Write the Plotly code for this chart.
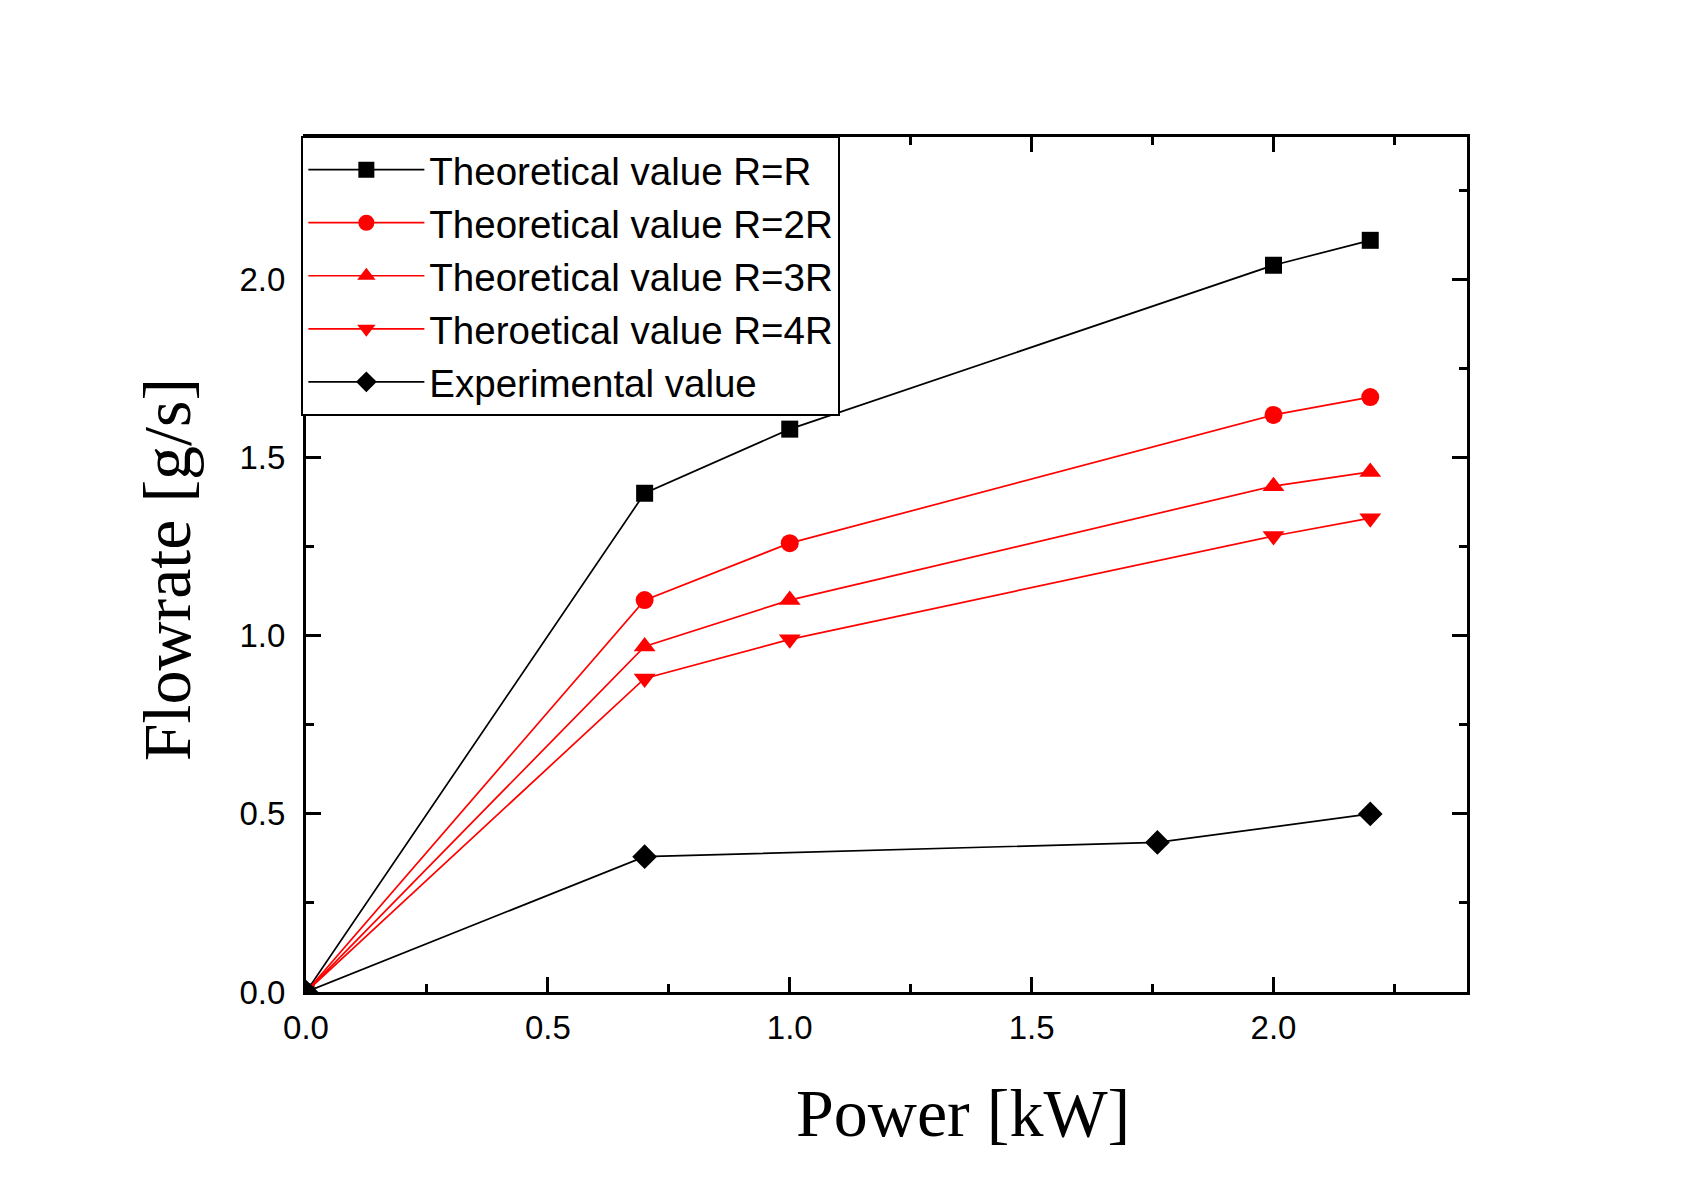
import plotly.graph_objects as go

power_theory = [0.0, 0.7, 1.0, 2.0, 2.2]
flow_r1 = [0.0, 1.40, 1.58, 2.04, 2.11]
flow_r2 = [0.0, 1.10, 1.26, 1.62, 1.67]
flow_r3 = [0.0, 0.97, 1.10, 1.42, 1.46]
flow_r4 = [0.0, 0.88, 0.99, 1.28, 1.33]
power_exp = [0.0, 0.7, 1.76, 2.2]
flow_exp = [0.0, 0.38, 0.42, 0.50]

names = ["Theoretical value R=R", "Theoretical value R=2R", "Theoretical value R=3R",
         "Theroetical value R=4R", "Experimental value"]

series = [
    (power_theory, flow_r1, names[0], "black", "square", 17),
    (power_theory, flow_r2, names[1], "#ff0000", "circle", 18),
    (power_theory, flow_r3, names[2], "#ff0000", "triangle-up", 19),
    (power_theory, flow_r4, names[3], "#ff0000", "triangle-down", 19),
    (power_exp, flow_exp, names[4], "black", "diamond", 19),
]

fig = go.Figure()
for xs, ys, nm, col, sym, sz in series:
    fig.add_trace(go.Scatter(
        x=xs, y=ys, name=nm, mode="lines+markers",
        line=dict(color=col, width=1.7),
        marker=dict(symbol=sym, size=sz, color=col),
    ))

axis_common = dict(
    range=[0, 2.4], dtick=0.5, tick0=0, tickformat=".1f",
    showline=True, linecolor="black", linewidth=3, mirror="ticks",
    ticks="inside", ticklen=15, tickwidth=2.5, tickcolor="black",
    minor=dict(ticks="inside", ticklen=8, tickwidth=2.5, tickcolor="black", dtick=0.25),
    showgrid=False, zeroline=False,
    tickfont=dict(family="Liberation Sans, Arial", size=33, color="black"),
)

fig.update_xaxes(**axis_common, ticklabelstandoff=4)
fig.update_yaxes(**axis_common, ticklabelstandoff=11)

fig.update_layout(
    width=1697, height=1183,
    margin=dict(l=298, r=238, t=129, b=199),
    paper_bgcolor="white", plot_bgcolor="white",
    showlegend=True,
    legend=dict(
        x=-0.004, y=1.001, xanchor="left", yanchor="top",
        bgcolor="white", bordercolor="black", borderwidth=2,
        font=dict(family="Liberation Sans, Arial", size=38.5, color="black"),
        itemwidth=116, tracegroupgap=0,
    ),
    annotations=[
        dict(text="Power [kW]", xref="paper", yref="paper", x=0.566, y=-0.141,
             xanchor="center", yanchor="middle", showarrow=False,
             font=dict(family="Liberation Serif, Times New Roman", size=68, color="black")),
        dict(text="Flowrate [g/s]", xref="paper", yref="paper", x=-0.12, y=0.494,
             xanchor="center", yanchor="middle", showarrow=False, textangle=-90,
             font=dict(family="Liberation Serif, Times New Roman", size=68, color="black")),
    ],
)

fig.write_html("out.html")
